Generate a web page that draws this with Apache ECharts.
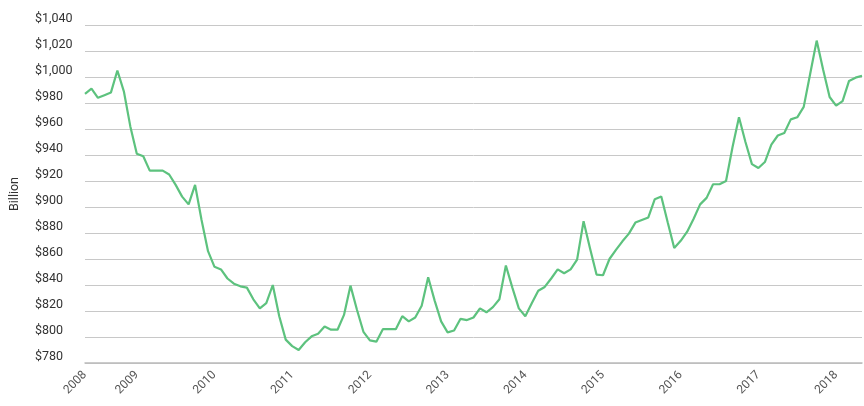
<!DOCTYPE html>
<html><head><meta charset="utf-8">
<script src="https://cdn.jsdelivr.net/npm/echarts@6/dist/echarts.min.js"></script>
<style>html,body{margin:0;padding:0;background:#fff}#c{width:864px;height:406px}</style>
</head><body><div id="c"></div>
<script>
const startYear = 2008, startMonth = 5;
const values = [
987,991,984,986,988,1005,989,962,941,939,928,928,928,925,917,908,902,917,890,866,
854,852,845,841,839,838,829,822,826,840,816,798,793,790,796,800.5,802.5,808,805.6,805.6,
817,839.5,821,804,797.4,796.4,806,806,806,816,812,815,824,846,828,812,803.6,805,814,813,
815,822,819,823,829,855,838,822,816,826,835.6,838.5,845,852,849,852,859.5,889,868,848,
847.5,860,867,873.6,879.5,888,890,892,906,908,888,868.5,874,881,891,902,907,917.5,917.5,920,
946,969,950,933,930,934.6,948,955,957,967.4,969,977,1002.5,1028,1005.6,984.6,978,981.5,997,999.5,
1001
];
const months = values.map((v, i) => {
  const m = startMonth - 1 + i;
  return (startYear + Math.floor(m / 12)) + '-' + String(m % 12 + 1).padStart(2, '0');
});
const yTicks = [780, 1040, 20];
const chart = echarts.init(document.getElementById('c'));
chart.setOption({
  animation: false,
  grid: {left: 77, right: 2, top: 25, bottom: 43},
  xAxis: {
    type: 'category', data: months, boundaryGap: false,
    axisLine: {lineStyle: {color: '#bbb', width: 1.5}},
    axisTick: {show: false},
    axisLabel: {
      rotate: 45, fontSize: 12, color: '#555', fontFamily: 'Roboto', margin: 10,
      interval: (i, v) => i === 0 || v.endsWith('-01'),
      formatter: v => v.slice(0, 4)
    }
  },
  yAxis: {
    type: 'value', min: yTicks[0], max: yTicks[1], interval: yTicks[2],
    name: 'Billion', nameLocation: 'middle', nameRotate: 90, nameGap: 64,
    nameTextStyle: {fontSize: 12.5, color: '#333', fontFamily: 'Roboto'},
    axisLine: {show: false}, axisTick: {show: false},
    splitLine: {lineStyle: {color: '#c8c8c8', width: 1}},
    axisLabel: {
      align: 'left', margin: 50, verticalAlign: 'bottom', fontSize: 12.5, color: '#333', fontFamily: 'Roboto',
      formatter: v => '$' + v.toLocaleString('en-US')
    }
  },
  series: [{
    type: 'line', data: values, showSymbol: false,
    lineStyle: {color: '#5DC27E', width: 2.2}
  }]
});
</script></body></html>
